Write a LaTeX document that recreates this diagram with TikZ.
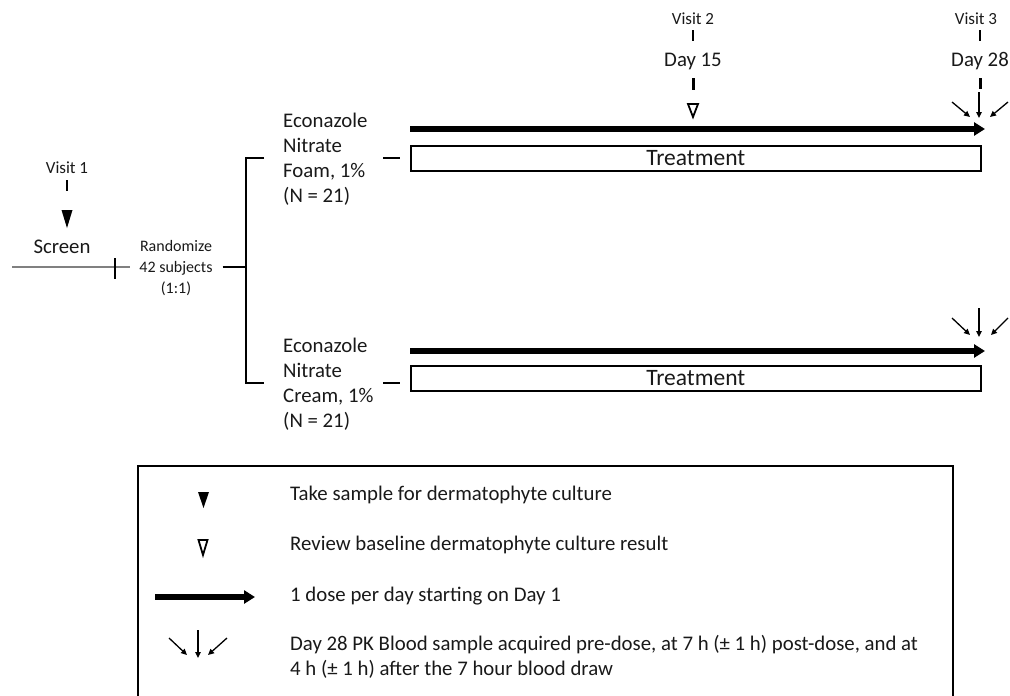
\documentclass[tikz,border=0pt]{standalone}
\usepackage{fontspec}
\setmainfont{Carlito}
\usetikzlibrary{arrows.meta, positioning, calc}

\begin{document}
\begin{tikzpicture}[x=1pt, y=-1pt,
    every node/.style={font=\fontsize{20.8}{25}\selectfont, inner sep=0pt, text=black!90},
    smalltext/.style={font=\fontsize{16}{21}\selectfont},
    visittext/.style={font=\fontsize{17}{21}\selectfont},
    dose/.style={line width=5.5pt, -{Triangle[length=11pt, width=13pt]}},
    pk/.style={line width=1.3pt, -{Triangle[length=6pt, width=5.5pt]}},
    daymark/.style={line width=1.6pt},
    daydash/.style={line width=3pt},
    treatbox/.style={draw, line width=1.6pt, minimum width=570pt, minimum height=25pt, anchor=north west}]
    \useasboundingbox (0,0) rectangle (1010,696);

    % Screening visit
    \node (visit1) at (67,168) [visittext] {Visit 1};
    \draw[daymark] (67,180) -- (67,191);
    \fill (61.5,210) -- (72.5,210) -- (67,228) -- cycle;
    \node (screen) at (62,247) {Screen};
    \draw[gray, line width=1.2pt] (12,267) -- (130,267);
    \draw[line width=1.4pt] (115,258) -- (115,279);

    % Randomization and bracket
    \node (rand) at (176,268) [smalltext, align=center] {Randomize\\42 subjects\\(1:1)};
    \coordinate (br) at (246,267);
    \draw[line width=1.8pt] ([xshift=10pt]rand.east |- br) -- (br);
    \draw[line width=1.8pt] (264,158) -| (246,383) -- (264,383);

    % Treatment arms
    \node (foam) [anchor=west, align=left] at (283,159) {Econazole\\Nitrate\\Foam, 1\%\\(N = 21)};
    \node (cream) [anchor=west, align=left] at (283,384) {Econazole\\Nitrate\\Cream, 1\%\\(N = 21)};
    \node (tfoam) [treatbox] at (410,145) {};
    \node (tcream) [treatbox] at (410,365) {};
    \node at (tfoam.center) {\fontsize{23.5}{25}\selectfont Treatment};
    \node at (tcream.center) {\fontsize{23.5}{25}\selectfont Treatment};
    \draw[line width=1.6pt] (383,158) -- ([xshift=-10pt]tfoam.west |- 0,158);
    \draw[line width=1.6pt] (383,383) -- ([xshift=-10pt]tcream.west |- 0,383);

    % Dosing arrows
    \draw[dose] (tfoam.north west |- 0,129) -- (985,129);
    \draw[dose] (tcream.north west |- 0,351) -- (985,351);

    % Day 15
    \node (visit2) at (693,19) [visittext] {Visit 2};
    \draw[daymark] (693,30) -- (693,41);
    \node (day15) at (693,61) {Day 15};
    \draw[daydash] (693,78) -- (693,90);
    \draw[line width=1.8pt] (688,104) -- (698,104) -- (693,117) -- cycle;

    % Day 28
    \node (visit3) at (976,19) [visittext] {Visit 3};
    \draw[daymark] (980,30) -- (980,41);
    \node (day28) at (980,61) {Day 28};
    \draw[daydash] (980,78) -- (980,89);
    \draw[pk] (979,92) -- (979,118);
    \draw[pk] (952,102) -- (970,117);
    \draw[pk] (1008,102) -- (990,117);
    \draw[pk] (979,308) -- (979,337);
    \draw[pk] (952,318) -- (970,335);
    \draw[pk] (1008,318) -- (991,335);

    % Legend
    \draw[line width=1.3pt] (138,466) rectangle (953,705);
    \fill (198,492) -- (209,492) -- (203.5,508) -- cycle;
    \node (leg1) [anchor=west] at (290,495) {Take sample for dermatophyte culture};
    \draw[line width=1.8pt] (198.5,540) -- (207.5,540) -- (203,555) -- cycle;
    \node (leg2) [anchor=west] at (290,545) {Review baseline dermatophyte culture result};
    \draw[dose] (155,597) -- (255,597);
    \node (leg3) [anchor=west] at (290,596) {1 dose per day starting on Day 1};
    \draw[pk] (198,630) -- (198,658);
    \draw[pk] (169,638) -- (187,655);
    \draw[pk] (227,638) -- (208,655);
    \node (leg4) [anchor=north west, align=left] at (290,635) {Day 28 PK Blood sample acquired pre-dose, at 7 h (± 1 h) post-dose, and at\\4 h (± 1 h) after the 7 hour blood draw};
\end{tikzpicture}
\end{document}
